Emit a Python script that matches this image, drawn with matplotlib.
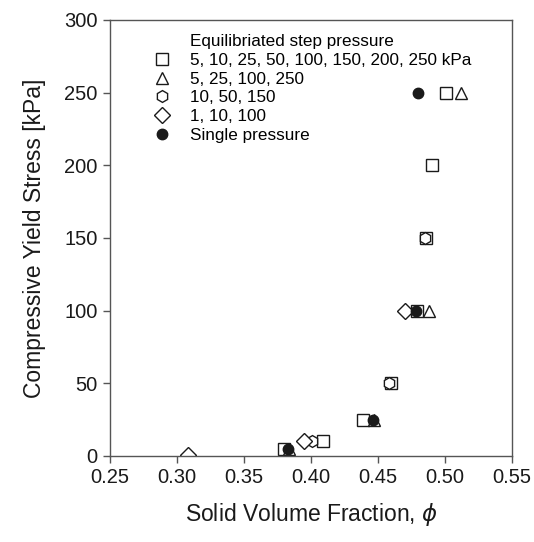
import matplotlib
matplotlib.use("Agg")
import matplotlib.pyplot as plt
from matplotlib.lines import Line2D

plt.rcParams["font.family"] = ["Liberation Sans", "DejaVu Sans"]

# Equilibrated step-pressure runs: applied pressure (kPa) vs. solid volume fraction
sq_pressure = [5, 10, 25, 50, 100, 150, 200, 250]
sq_phi = [0.380, 0.409, 0.439, 0.460, 0.479, 0.486, 0.490, 0.501]

tri_pressure = [5, 25, 100, 250]
tri_phi = [0.3835, 0.447, 0.4877, 0.5115]

hex_pressure = [10, 50, 150]
hex_phi = [0.401, 0.458, 0.485]

dia_pressure = [1, 10, 100]
dia_phi = [0.308, 0.395, 0.470]

# Single-pressure runs
single_pressure = [5, 25, 100, 250]
single_phi = [0.383, 0.446, 0.478, 0.480]

x_ticks = [0.25, 0.30, 0.35, 0.40, 0.45, 0.50, 0.55]
y_ticks = [0, 50, 100, 150, 200, 250, 300]

fig = plt.figure(figsize=(5.34, 5.42), dpi=100)
ax = fig.add_axes([0.206, 0.1587, 0.753, 0.8044])

open_kw = dict(linestyle="none", markerfacecolor="white", markeredgecolor="#1a1a1a",
               markeredgewidth=1.0)
ax.plot(sq_phi, sq_pressure, marker="s", markersize=8, **open_kw)
ax.plot(tri_phi, tri_pressure, marker="^", markersize=9, **open_kw)
ax.plot(hex_phi, hex_pressure, marker="h", markersize=8.5, **open_kw)
ax.plot(dia_phi, dia_pressure, marker="D", markersize=8, **open_kw)
ax.plot(single_phi, single_pressure, marker="o", markersize=7.5, linestyle="none",
        color="#1a1a1a")

ax.set_xlim(0.25, 0.55)
ax.set_ylim(0, 300)
ax.set_xticks(x_ticks)
ax.set_xticklabels([f"{t:.2f}" for t in x_ticks])
ax.set_yticks(y_ticks)
ax.tick_params(direction="out", length=5, width=1, labelsize=14.5, colors="#555555",
               labelcolor="#1a1a1a", pad=4)
for s in ax.spines.values():
    s.set_color("#555555")
    s.set_linewidth(1.0)

ax.set_xlabel(r"Solid Volume Fraction, $\phi$", fontsize=16.5, color="#1a1a1a", labelpad=10)
ax.set_ylabel("Compressive Yield Stress [kPa]", fontsize=16.5, color="#1a1a1a", labelpad=13)

# legend: first row is an unmarked heading that lines up with the entry texts
blank = Line2D([], [], linestyle="none", marker="none")
handles = [
    blank,
    Line2D([], [], marker="s", markersize=8, **open_kw),
    Line2D([], [], marker="^", markersize=9, **open_kw),
    Line2D([], [], marker="h", markersize=8.5, **open_kw),
    Line2D([], [], marker="D", markersize=8, **open_kw),
    Line2D([], [], marker="o", markersize=7.5, linestyle="none", color="#1a1a1a"),
]
labels = [
    "Equilibriated step pressure",
    "5, 10, 25, 50, 100, 150, 200, 250 kPa",
    "5, 25, 100, 250",
    "10, 50, 150",
    "1, 10, 100",
    "Single pressure",
]
ax.legend(handles, labels, loc="upper left", bbox_to_anchor=(0.075, 0.995), frameon=False,
          fontsize=12.3, handletextpad=1.0, labelspacing=0.22, handlelength=1.2,
          borderaxespad=0.3)

fig.savefig("out.png", dpi=100)
